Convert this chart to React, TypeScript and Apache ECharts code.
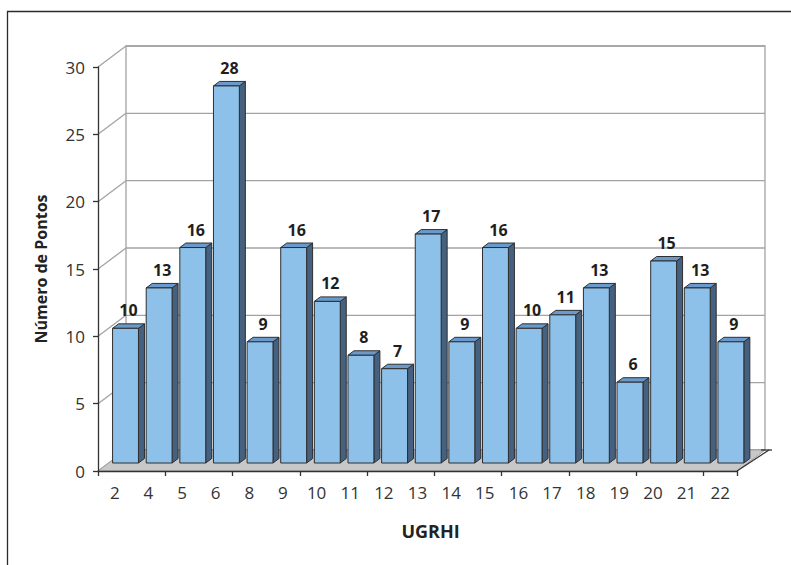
import React, { useEffect, useRef } from "react";
import * as echarts from "echarts";

// UGRHI units and number of monitoring points in each
const categories = ["2", "4", "5", "6", "8", "9", "10", "11", "12", "13", "14", "15", "16", "17", "18", "19", "20", "21", "22"];
const pontos = [10, 13, 16, 28, 9, 16, 12, 8, 7, 17, 9, 16, 10, 11, 13, 6, 15, 13, 9];
const yTicks = [0, 5, 10, 15, 20, 25, 30];

// pseudo-3D geometry (pixels)
const WALL_DX = 28;
const WALL_DY = -21;
const BAR_DX = 10.7;
const BAR_DY = -8;
const BAR_DEPTH_X = 6;
const BAR_DEPTH_Y = -4.5;
const BAR_RATIO = 0.77;

const FONT = "'Open Sans', 'Noto Sans', sans-serif";

export default function App() {
  const ref = useRef<HTMLDivElement>(null);

  useEffect(() => {
    const chart = echarts.init(ref.current!, null, { renderer: "svg" });

    const frameRender = (_params: any, api: any) => {
      const n = categories.length;
      const bw = api.size([1, 0])[0];
      const x0 = api.coord([0, 0])[0] - bw / 2;
      const x1 = api.coord([n - 1, 0])[0] + bw / 2;
      const yAt = (v: number) => api.coord([0, v])[1];
      const top = yAt(yTicks[yTicks.length - 1]);
      const base = yAt(0);
      const gridStyle = { stroke: "#a3a3a3", lineWidth: 1.3, fill: "none" };
      const children: any[] = [];

      // back wall
      children.push({
        type: "polygon",
        shape: {
          points: [
            [x0 + WALL_DX, top + WALL_DY],
            [x1 + WALL_DX, top + WALL_DY],
            [x1 + WALL_DX, base + WALL_DY],
            [x0 + WALL_DX, base + WALL_DY],
          ],
        },
        style: { fill: "#ffffff", stroke: "#a3a3a3", lineWidth: 1.3 },
      });

      // gridlines on back wall and side wall
      yTicks.forEach((v) => {
        const y = yAt(v);
        children.push({
          type: "line",
          shape: { x1: x0 + WALL_DX, y1: y + WALL_DY, x2: x1 + WALL_DX, y2: y + WALL_DY },
          style: gridStyle,
        });
        children.push({
          type: "line",
          shape: { x1: x0, y1: y, x2: x0 + WALL_DX, y2: y + WALL_DY },
          style: gridStyle,
        });
      });

      // floor
      children.push({
        type: "polygon",
        shape: {
          points: [
            [x0, base],
            [x1, base],
            [x1 + WALL_DX, base + WALL_DY],
            [x0 + WALL_DX, base + WALL_DY],
          ],
        },
        style: { fill: "#c8c8c8", stroke: "#a3a3a3", lineWidth: 1 },
      });
      children.push({
        type: "line",
        shape: { x1: x1, y1: base, x2: x1 + WALL_DX + 4, y2: base + WALL_DY },
        style: { stroke: "#333333", lineWidth: 1.3 },
      });
      children.push({
        type: "line",
        shape: { x1: x1 + WALL_DX - 4, y1: base + WALL_DY, x2: x1 + WALL_DX + 7, y2: base + WALL_DY },
        style: { stroke: "#333333", lineWidth: 1.3 },
      });

      return { type: "group", children };
    };

    const barRender = (_params: any, api: any) => {
      const idx = api.value(0);
      const v = api.value(1);
      const [cx, yTop] = api.coord([idx, v]);
      const yBase = api.coord([idx, 0])[1];
      const bw = api.size([1, 0])[0] * BAR_RATIO;
      const l = cx - bw / 2 + BAR_DX;
      const r = cx + bw / 2 + BAR_DX;
      const t = yTop + BAR_DY;
      const b = yBase + BAR_DY;
      const edge = { stroke: "#2e2e2e", lineWidth: 1, lineJoin: "round" };
      return {
        type: "group",
        children: [
          {
            type: "polygon",
            shape: {
              points: [
                [r, t],
                [r + BAR_DEPTH_X, t + BAR_DEPTH_Y],
                [r + BAR_DEPTH_X, b + BAR_DEPTH_Y],
                [r, b],
              ],
            },
            style: { fill: "#46617f", ...edge },
          },
          {
            type: "polygon",
            shape: {
              points: [
                [l, t],
                [r, t],
                [r + BAR_DEPTH_X, t + BAR_DEPTH_Y],
                [l + BAR_DEPTH_X, t + BAR_DEPTH_Y],
              ],
            },
            style: { fill: "#6a9acb", ...edge },
          },
          {
            type: "rect",
            shape: { x: l, y: t, width: r - l, height: b - t },
            style: { fill: "#8dc1e9", ...edge },
          },
          {
            type: "text",
            style: {
              x: cx + BAR_DX + 3,
              y: t - 18,
              text: String(v),
              align: "center",
              verticalAlign: "middle",
              fill: "#1e1e1e",
              font: `bold 16px ${FONT}`,
            },
          },
        ],
      };
    };

    chart.setOption({
      animation: false,
      backgroundColor: "#ffffff",
      textStyle: { fontFamily: FONT },
      graphic: [
        {
          type: "rect",
          z: -10,
          shape: { x: 7.5, y: 11.5, width: 820, height: 620 },
          style: { fill: "none", stroke: "#2a2a2a", lineWidth: 1.3 },
        },
      ],
      grid: { left: 98, top: 67, width: 639, height: 404, containLabel: false },
      xAxis: {
        type: "category",
        data: categories,
        boundaryGap: true,
        z: 10,
        name: "UGRHI",
        nameLocation: "middle",
        nameGap: 51,
        nameTextStyle: {
          fontWeight: "bold",
          fontSize: 18,
          color: "#222",
          fontFamily: FONT,
          padding: [0, 0, 0, 26],
        },
        axisLine: { show: true, lineStyle: { color: "#333", width: 1.3 } },
        axisTick: { show: true, interval: 1, length: 5, lineStyle: { color: "#333", width: 1.3 } },
        axisLabel: { interval: 0, fontSize: 17, color: "#333", margin: 13, fontFamily: FONT },
        splitLine: { show: false },
      },
      yAxis: {
        type: "value",
        min: 0,
        max: 30,
        interval: 5,
        z: 10,
        name: "Número de Pontos",
        nameLocation: "middle",
        nameGap: 49,
        nameTextStyle: { fontWeight: "bold", fontSize: 16, color: "#222", fontFamily: FONT },
        axisLine: { show: true, lineStyle: { color: "#333", width: 1.3 } },
        axisTick: { show: true, length: 5, lineStyle: { color: "#333", width: 1.3 } },
        axisLabel: { fontSize: 17, color: "#333", margin: 13, fontFamily: FONT },
        splitLine: { show: false },
      },
      series: [
        {
          type: "custom",
          name: "frame",
          clip: false,
          silent: true,
          z: 1,
          renderItem: frameRender,
          data: [[0, 0]],
        },
        {
          type: "custom",
          name: "Número de Pontos",
          clip: false,
          z: 3,
          renderItem: barRender,
          data: pontos.map((v, i) => [i, v]),
        },
      ],
    });

    return () => chart.dispose();
  }, []);

  return (
    <div
      ref={ref}
      style={{ position: "absolute", left: 0, top: 0, width: 791, height: 565, background: "#fff" }}
    />
  );
}
